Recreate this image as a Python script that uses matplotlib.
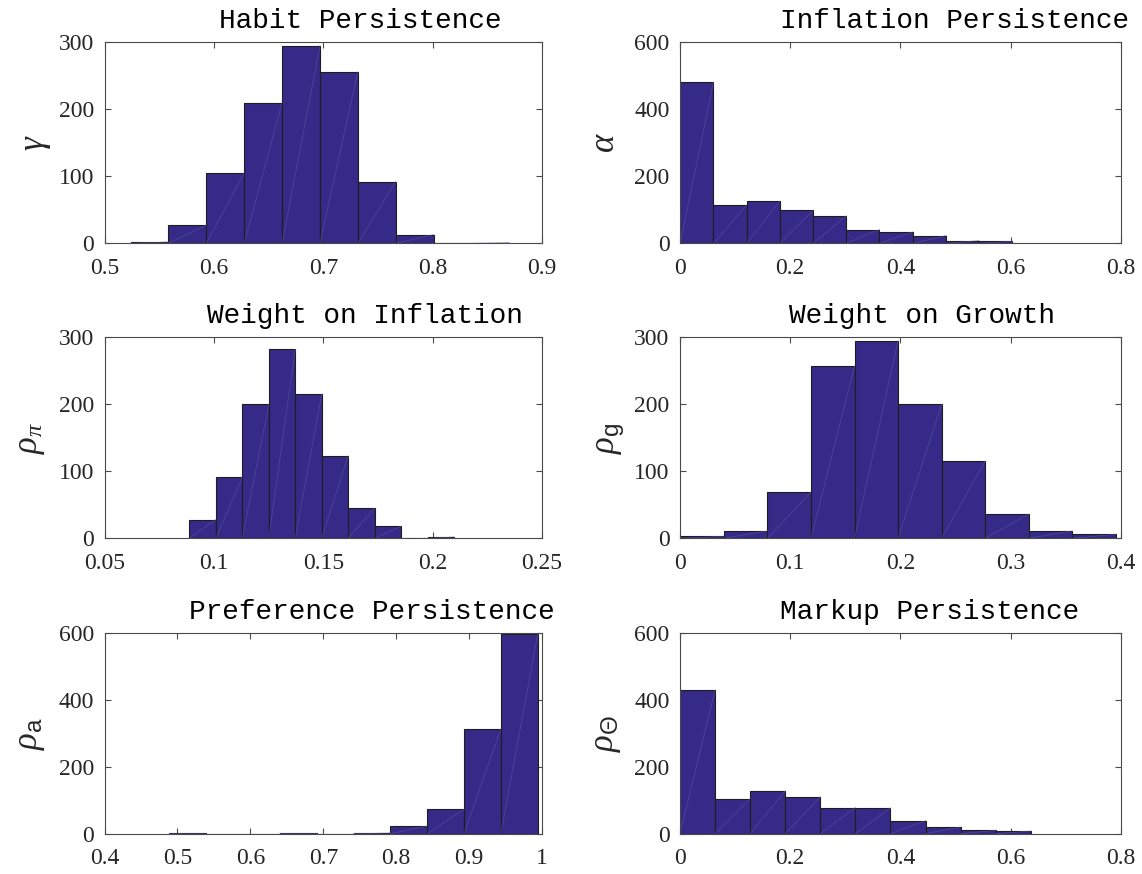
import numpy as np
import matplotlib
matplotlib.use("Agg")
import matplotlib.pyplot as plt
from matplotlib.ticker import FuncFormatter, MultipleLocator

plt.rcParams['mathtext.fontset'] = 'custom'
plt.rcParams['mathtext.rm'] = 'Liberation Serif'
plt.rcParams['mathtext.it'] = 'Liberation Serif:italic'
plt.rcParams['mathtext.bf'] = 'Liberation Serif:bold'
plt.rcParams['mathtext.sf'] = 'Liberation Sans'

# ---------------- data ----------------
titles = ["Habit Persistence", "Inflation Persistence",
          "Weight on Inflation", "Weight on Growth",
          "Preference Persistence", "Markup Persistence"]
ylabels = [r'$\gamma$', r'$\alpha$', r'$\rho_{\pi}$', r'$\rho_{\mathsf{g}}$',
           r'$\rho_{\mathsf{a}}$', r'$\rho_{\mathsf{\Theta}}$']

habit_edges = [0.5239, 0.5585, 0.5931, 0.6278, 0.6624, 0.6970, 0.7316, 0.7662, 0.8009, 0.8355, 0.8701]
habit_counts = [2, 27, 105, 210, 295, 256, 92, 13, 0, 1]

infl_pers_edges = [0.0004, 0.0607, 0.1210, 0.1813, 0.2416, 0.3019, 0.3621, 0.4224, 0.4827, 0.5430, 0.6033]
infl_pers_counts = [480, 114, 126, 98, 82, 41, 34, 23, 8, 6]

w_infl_edges = [0.0888, 0.1009, 0.1130, 0.1251, 0.1372, 0.1493, 0.1614, 0.1735, 0.1856, 0.1977, 0.2098]
w_infl_counts = [28, 91, 200, 282, 215, 123, 45, 18, 0, 2]

w_growth_edges = [0.0003, 0.0398, 0.0793, 0.1189, 0.1584, 0.1979, 0.2374, 0.2769, 0.3165, 0.3560, 0.3955]
w_growth_counts = [3, 11, 69, 257, 295, 200, 115, 36, 11, 6]

pref_edges = [0.4890, 0.5395, 0.5900, 0.6405, 0.6910, 0.7415, 0.7920, 0.8425, 0.8930, 0.9435, 0.9940]
pref_counts = [1, 0, 0, 1, 0, 2, 23, 73, 312, 595]

markup_edges = [0.0000, 0.0637, 0.1274, 0.1910, 0.2547, 0.3184, 0.3821, 0.4458, 0.5094, 0.5731, 0.6368]
markup_counts = [429, 105, 128, 110, 78, 77, 39, 20, 10, 8]

edges_all = [habit_edges, infl_pers_edges, w_infl_edges, w_growth_edges, pref_edges, markup_edges]
counts_all = [habit_counts, infl_pers_counts, w_infl_counts, w_growth_counts, pref_counts, markup_counts]

xlims = [(0.5, 0.9), (0, 0.8), (0.05, 0.25), (0, 0.4), (0.4, 1.0), (0, 0.8)]
xsteps = [0.1, 0.2, 0.05, 0.1, 0.1, 0.2]
ylims = [300, 600, 300, 300, 600, 600]
ysteps = [100, 200, 100, 100, 200, 200]

# ---------------- layout ----------------
W, H = 1142, 874
col_left = [104.5, 680.0]
col_width = [437.5, 440.7]
row_top = [42.3, 337.3, 632.7]
row_h = 201.0
title_cx = [0.585, 0.622, 0.595, 0.550, 0.612, 0.567]
ylabel_x = [-0.118, -0.134, -0.131, -0.121, -0.131, -0.129]

bar_color = '#352A87'
edge_color = '#1e1e1e'
ink = '#262626'
spine_color = '#4a4a4a'

fig = plt.figure(figsize=(W / 100, H / 100), dpi=100)

for i in range(6):
    r, c = divmod(i, 2)
    ax = fig.add_axes([col_left[c] / W, 1 - (row_top[r] + row_h) / H,
                       col_width[c] / W, row_h / H])
    e = np.array(edges_all[i])
    h = np.array(counts_all[i])
    lefts = e[:-1]
    widths = np.diff(e)
    ax.bar(lefts, h, width=widths, align='edge', color=bar_color,
           edgecolor=edge_color, linewidth=0.8, zorder=2)
    # faint diagonal rendering artefact inside each bar
    for l, w, v in zip(lefts, widths, h):
        if v > 0:
            ax.plot([l, l + w], [0, v], color='#5b56a6', lw=0.5, alpha=0.7, zorder=3)

    ax.set_xlim(*xlims[i])
    ax.set_ylim(0, ylims[i])
    ax.xaxis.set_major_locator(MultipleLocator(xsteps[i]))
    ax.yaxis.set_major_locator(MultipleLocator(ysteps[i]))
    ax.xaxis.set_major_formatter(FuncFormatter(lambda v, p: '%g' % round(v, 4)))
    ax.yaxis.set_major_formatter(FuncFormatter(lambda v, p: '%g' % v))

    for s in ax.spines.values():
        s.set_color(spine_color)
        s.set_linewidth(0.8)
        s.set_zorder(4)
    ax.tick_params(axis='both', direction='in', top=True, right=True,
                   length=4, width=0.8, color=spine_color, labelcolor=ink)
    ax.tick_params(axis='x', pad=10.5)
    ax.tick_params(axis='y', pad=7.5)
    for lab in ax.get_xticklabels() + ax.get_yticklabels():
        lab.set_fontfamily('Liberation Serif')
        lab.set_fontsize(17)

    ax.text(title_cx[i], 1 + 14 / row_h, titles[i], transform=ax.transAxes,
            ha='center', va='baseline', fontsize=20,
            fontfamily='Liberation Mono', color='black')

    ax.set_ylabel(ylabels[i], fontsize=25, color=ink)
    ax.yaxis.set_label_coords(ylabel_x[i], 0.5)

fig.savefig('out.png', dpi=100)
